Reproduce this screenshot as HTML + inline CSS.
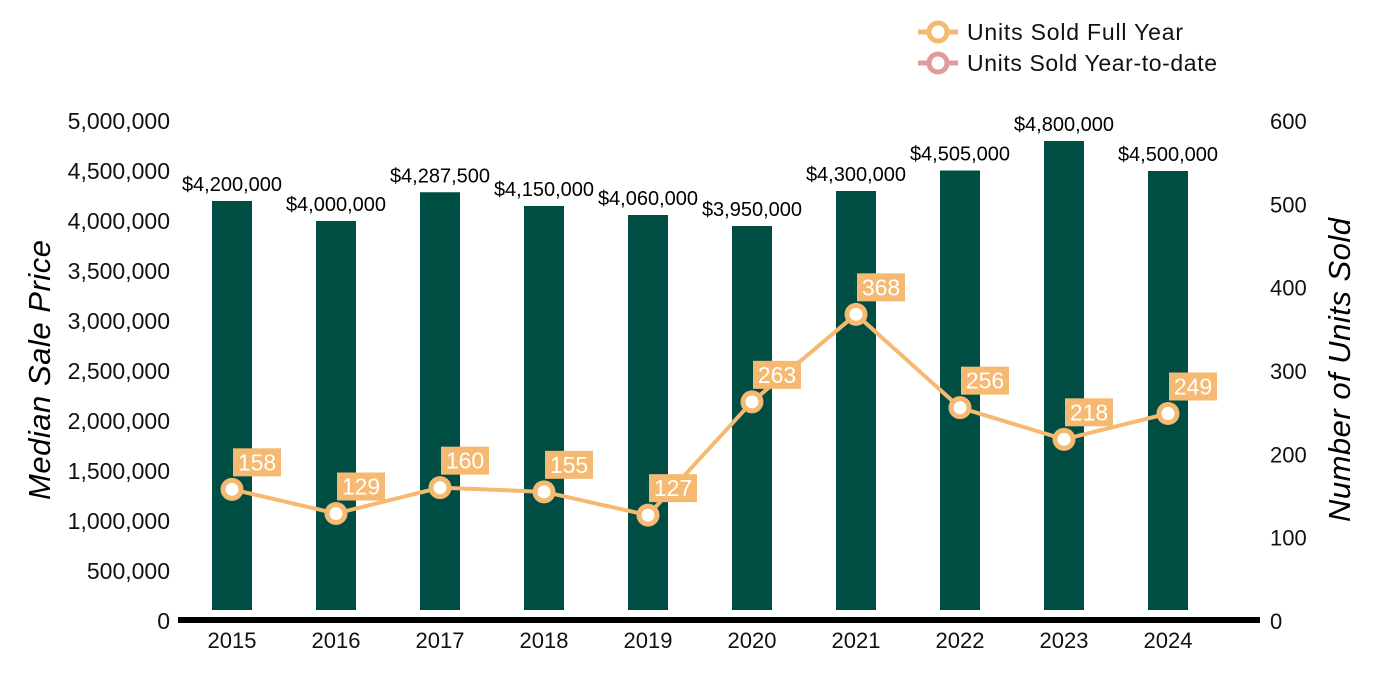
<!DOCTYPE html>
<html><head><meta charset="utf-8"><style>
html,body{margin:0;padding:0;background:#fff;}
svg{display:block;font-family:"Liberation Sans",Arial,sans-serif;}
</style></head><body>
<svg id="chart" width="1400" height="700">
<g id="legend">
 <g>
  <line x1="918" y1="32" x2="958" y2="32" stroke="#F5B971" stroke-width="5"/>
  <circle cx="938" cy="32" r="9" fill="#fff" stroke="#F5B971" stroke-width="5"/>
  <text x="967" y="40" font-size="23" textLength="216" fill="#111">Units Sold Full Year</text>
 </g>
 <g>
  <line x1="918" y1="63" x2="958" y2="63" stroke="#E09A9A" stroke-width="5"/>
  <circle cx="938" cy="63" r="9" fill="#fff" stroke="#E09A9A" stroke-width="5"/>
  <text x="967" y="71" font-size="23" textLength="250" fill="#111">Units Sold Year-to-date</text>
 </g>
</g>
<text transform="translate(50,370) rotate(-90)" text-anchor="middle" font-size="31" textLength="260" font-style="italic" fill="#000">Median Sale Price</text>
<text transform="translate(1350,370) rotate(-90)" text-anchor="middle" font-size="31" textLength="304" font-style="italic" fill="#000">Number of Units Sold</text>
<g id="g"></g>
</svg>
<script>
const years=["2015","2016","2017","2018","2019","2020","2021","2022","2023","2024"];
const prices=[4200000,4000000,4287500,4150000,4060000,3950000,4300000,4505000,4800000,4500000];
const units=[158,129,160,155,127,263,368,256,218,249];
const leftTicks=[0,500000,1000000,1500000,2000000,2500000,3000000,3500000,4000000,4500000,5000000];
const rightTicks=[0,100,200,300,400,500,600];
const NS="http://www.w3.org/2000/svg";
const g=document.getElementById('g');
const yL=v=>621-v/5000000*500;
const yR=v=>621-v/600*500;
const xC=i=>232+i*104;
function mk(t,a,p){const e=document.createElementNS(NS,t);for(const k in a)e.setAttribute(k,a[k]);(p||g).appendChild(e);return e;}
const fmt=v=>v.toLocaleString('en-US');
leftTicks.forEach(v=>{const t=mk('text',{x:170,y:yL(v)+8,'text-anchor':'end','font-size':23,fill:'#111'});t.textContent=fmt(v);

});
rightTicks.forEach(v=>{const t=mk('text',{x:1270,y:yR(v)+8,'font-size':22,fill:'#111'});t.textContent=v;

});
years.forEach((y,i)=>{
 const top=yL(prices[i]);
 const b=mk('rect',{x:xC(i)-20,y:top,width:40,height:610-top,fill:'#004D44'});
 
 
 const l=mk('text',{x:xC(i),y:top-10,'text-anchor':'middle','font-size':20,fill:'#000'});l.textContent='$'+fmt(prices[i]);
 
 
 const xt=mk('text',{x:xC(i),y:648,'text-anchor':'middle','font-size':22,fill:'#111'});xt.textContent=y;
 
 
});
const ax=mk('rect',{x:178,y:617,width:1082,height:6,fill:'#000'});


const pl=mk('polyline',{points:units.map((u,i)=>xC(i)+','+yR(u)).join(' '),fill:'none',stroke:'#F5B971','stroke-width':4});


units.forEach((u,i)=>{
 const c=mk('circle',{cx:xC(i),cy:yR(u),r:9,fill:'#fff',stroke:'#F5B971','stroke-width':5});
 
 
 const r=mk('rect',{x:xC(i)+1,y:yR(u)-41,width:48,height:28,fill:'#F5B971'});
 
 
 const t=mk('text',{x:xC(i)+25,y:yR(u)-19,'text-anchor':'middle','font-size':23,fill:'#fff'});t.textContent=u;
 
 
});
</script>
</body></html>
